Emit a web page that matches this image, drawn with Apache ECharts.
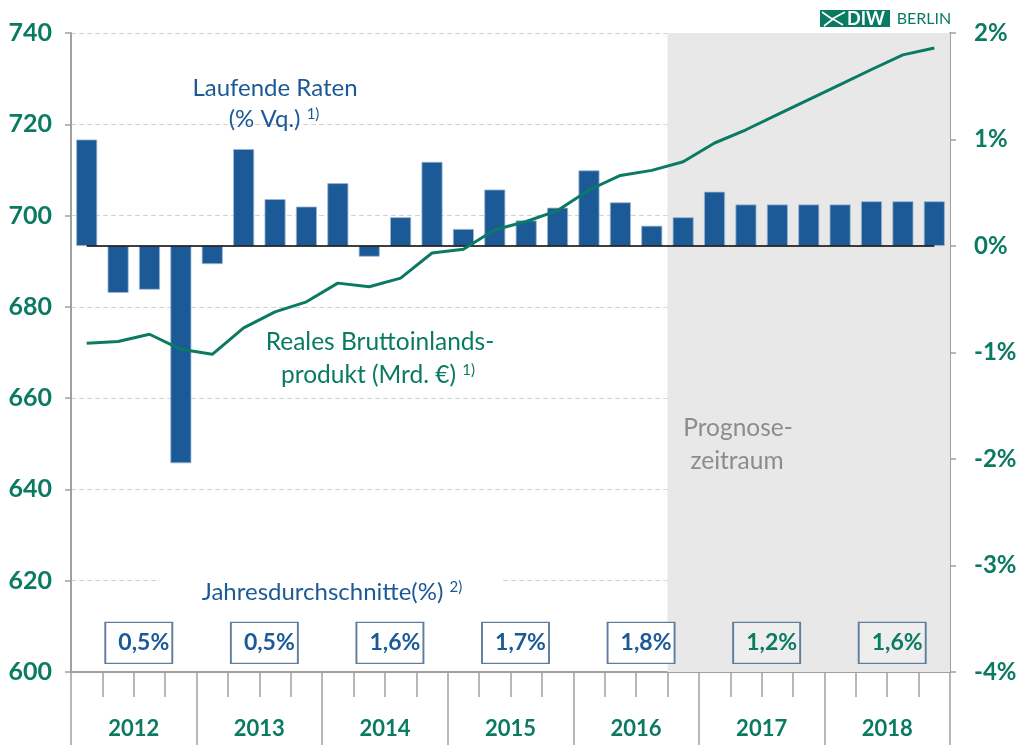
<!DOCTYPE html>
<html>
<head>
<meta charset="utf-8">
<script src="https://cdn.jsdelivr.net/npm/echarts@6/dist/echarts.min.js"></script>
<style>
    html, body { margin: 0; padding: 0; background: #fff; }
    #chart { width: 1020px; height: 745px; }
</style>
</head>
<body>
<div id="chart"></div>
<script>
// years shown on the axis, each split into four quarters
var years = ['2012', '2013', '2014', '2015', '2016', '2017', '2018'];
// quarter-on-quarter growth, % (bars, right axis)
var qoqRate = [1.0, -0.44, -0.41, -2.04, -0.17, 0.91, 0.44, 0.37, 0.59, -0.10,
    0.27, 0.79, 0.16, 0.53, 0.24, 0.36, 0.71, 0.41, 0.19, 0.27,
    0.51, 0.39, 0.39, 0.39, 0.39, 0.42, 0.42, 0.42];
// real GDP, bn EUR (line, left axis)
var gdp = [672.0, 672.4, 674.0, 670.7, 669.6, 675.4, 678.9, 681.1, 685.2, 684.4,
    686.3, 691.8, 692.6, 696.9, 698.7, 701.1, 705.6, 708.8, 709.9, 711.8,
    715.9, 718.8, 722.1, 725.4, 728.7, 732.0, 735.2, 736.7];
// annual averages, %
var annualAvg = [0.5, 0.5, 1.6, 1.7, 1.8, 1.2, 1.6];
var forecastYears = ['2017', '2018'];
var forecastStart = '2016 Q4';

var quarters = [];
years.forEach(function (y) {
    for (var q = 1; q <= 4; q++) { quarters.push(y + ' Q' + q); }
});
var zeroLine = quarters.map(function () { return 0; });
var forecastIdx = quarters.indexOf(forecastStart);

var BLUE = '#1b5a96', GREEN = '#0b7a62', AXIS = '#a0a0a0';
var FONT = 'Lato';

var boxData = years.map(function (y, i) {
    var fc = forecastYears.indexOf(y) >= 0;
    return {
        value: [y, 606.4, annualAvg[i]],
        itemStyle: { color: fc ? '#eeeeee' : '#ffffff' },
        label: { color: fc ? GREEN : BLUE }
    };
});

var sup = function (color) {
    return { s: { fontSize: 15, fontFamily: FONT, fill: color, verticalAlign: 'top', padding: [0, 0, 8, 0] } };
};

var chart = echarts.init(document.getElementById('chart'));
var option = {
    animation: false,
    textStyle: { fontFamily: FONT },
    grid: { left: 71, right: 70, top: 33, bottom: 73 },
    xAxis: [{
        type: 'category',
        data: quarters,
        axisLine: { onZero: false, lineStyle: { color: AXIS, width: 2 } },
        axisTick: { show: true, interval: 0, length: 25, lineStyle: { color: AXIS, width: 1.5 } },
        axisLabel: { show: false }
    }, {
        type: 'category',
        data: years,
        position: 'bottom',
        axisLine: { show: false, onZero: false },
        axisTick: { show: true, interval: 0, length: 73, lineStyle: { color: AXIS, width: 1.5 } },
        axisLabel: { margin: 46, color: GREEN, fontWeight: 'bold', fontSize: 22, fontFamily: FONT }
    }, {
        type: 'value',
        min: 0,
        max: quarters.length,
        show: false
    }],
    yAxis: [{
        type: 'value',
        min: 600, max: 740, interval: 20,
        axisLine: { show: true, lineStyle: { color: AXIS, width: 2 } },
        axisTick: { show: true, length: 6, lineStyle: { color: AXIS, width: 1.5 } },
        axisLabel: { margin: 19, color: GREEN, fontWeight: 'bold', fontSize: 25, fontFamily: FONT },
        splitLine: { lineStyle: { color: '#d4d4d4', type: [5, 3], width: 1.2 } }
    }, {
        type: 'value',
        min: -4, max: 2, interval: 1,
        position: 'right',
        axisLine: { show: true, onZero: false, lineStyle: { color: AXIS, width: 2 } },
        axisTick: { show: true, length: 6, lineStyle: { color: AXIS, width: 1.5 } },
        axisLabel: { margin: 24, color: GREEN, fontWeight: 'bold', fontSize: 24, fontFamily: FONT, formatter: '{value}%' },
        splitLine: { show: false }
    }],
    series: [{
        // forecast shading
        type: 'line',
        xAxisIndex: 2, yAxisIndex: 0,
        z: -1,
        data: [[forecastIdx, 600]],
        symbol: 'none',
        lineStyle: { opacity: 0 },
        silent: true,
        markArea: {
            silent: true,
            itemStyle: { color: '#e8e8e8' },
            data: [[{ xAxis: forecastIdx, yAxis: 600 }, { xAxis: quarters.length, yAxis: 740 }]]
        }
    }, {
        name: 'Laufende Raten',
        type: 'bar',
        xAxisIndex: 0, yAxisIndex: 1,
        data: qoqRate,
        barWidth: 21,
        itemStyle: { color: BLUE, borderColor: '#9db6d3', borderWidth: 0.8 }
    }, {
        type: 'line',
        xAxisIndex: 0, yAxisIndex: 1,
        data: zeroLine,
        symbol: 'none',
        z: 3,
        lineStyle: { color: '#000', width: 1.5 }
    }, {
        name: 'BIP',
        type: 'line',
        xAxisIndex: 0, yAxisIndex: 0,
        data: gdp,
        symbol: 'none',
        z: 4,
        lineStyle: { color: GREEN, width: 3 }
    }, {
        type: 'scatter',
        xAxisIndex: 1, yAxisIndex: 0,
        data: boxData,
        symbol: 'rect',
        symbolSize: [67, 41],
        symbolOffset: [5, 0],
        z: 5,
        itemStyle: { borderColor: '#5f7d9c', borderWidth: 1.5, opacity: 1 },
        label: {
            show: true,
            position: 'inside',
            offset: [5, 0],
            fontFamily: FONT,
            fontWeight: 'bold',
            fontSize: 23,
            formatter: function (p) { return String(p.value[2]).replace('.', ',') + '%'; }
        }
    }],
    graphic: [
        { type: 'text', z: 10, style: { x: 275, y: 88, text: 'Laufende Raten', fill: BLUE, font: '24px ' + FONT, textAlign: 'center', textVerticalAlign: 'middle' } },
        { type: 'text', z: 10, style: { x: 274, y: 119, text: '(% Vq.) {s|1)}', fill: BLUE, font: '24px ' + FONT, textAlign: 'center', textVerticalAlign: 'middle', rich: sup(BLUE) } },
        { type: 'text', z: 10, style: { x: 380, y: 342, text: 'Reales Bruttoinlands-', fill: GREEN, font: '24.5px ' + FONT, textAlign: 'center', textVerticalAlign: 'middle' } },
        { type: 'text', z: 10, style: { x: 378, y: 375, text: 'produkt (Mrd. €) {s|1)}', fill: GREEN, font: '24.5px ' + FONT, textAlign: 'center', textVerticalAlign: 'middle', rich: sup(GREEN) } },
        { type: 'rect', z: 9, shape: { x: 160, y: 578, width: 342, height: 8 }, style: { fill: '#fff' } },
        { type: 'text', z: 10, style: { x: 332, y: 592, text: 'Jahresdurchschnitte(%) {s|2)}', fill: BLUE, font: '24px ' + FONT, textAlign: 'center', textVerticalAlign: 'middle', rich: sup(BLUE) } },
        { type: 'text', z: 10, style: { x: 738, y: 428, text: 'Prognose-', fill: '#8c8c8c', font: '24.5px ' + FONT, textAlign: 'center', textVerticalAlign: 'middle' } },
        { type: 'text', z: 10, style: { x: 737, y: 461, text: 'zeitraum', fill: '#8c8c8c', font: '24.5px ' + FONT, textAlign: 'center', textVerticalAlign: 'middle' } },
        // DIW BERLIN logo
        { type: 'rect', z: 10, shape: { x: 820, y: 10, width: 70, height: 17 }, style: { fill: GREEN } },
        { type: 'polyline', z: 11, shape: { points: [[822, 12], [832, 19], [845, 12]] }, style: { stroke: '#fff', lineWidth: 1.6, fill: null } },
        { type: 'polyline', z: 11, shape: { points: [[824, 26], [833, 19], [843, 25]] }, style: { stroke: '#fff', lineWidth: 1.6, fill: null } },
        { type: 'text', z: 11, style: { x: 866, y: 19, text: 'DIW', fill: '#fff', font: 'bold 18px ' + FONT, textAlign: 'center', textVerticalAlign: 'middle' } },
        { type: 'text', z: 10, style: { x: 924, y: 19, text: 'BERLIN', fill: GREEN, font: '16px ' + FONT, textAlign: 'center', textVerticalAlign: 'middle' } }
    ]
};
chart.setOption(option);
</script>
</body>
</html>
